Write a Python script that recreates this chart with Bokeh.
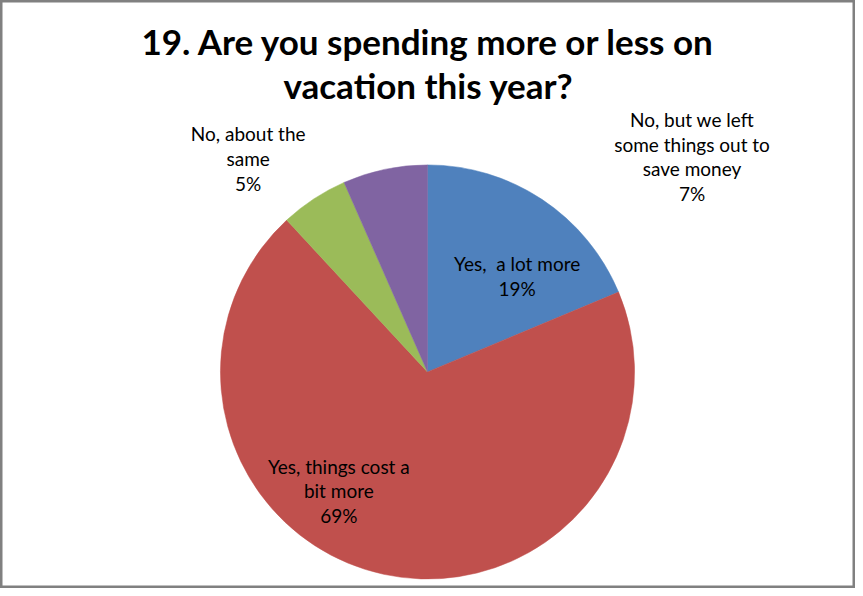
import math
from bokeh.plotting import figure
from bokeh.models import Range1d, ColumnDataSource
from bokeh.core.properties import value
from bokeh.embed import file_html
from bokeh.resources import INLINE

# ---- data ----
title_lines = ["19. Are you spending more or less on", "vacation this year?"]
categories = [
    "Yes,  a lot more",
    "Yes, things cost a\nbit more",
    "No, about the\nsame",
    "No, but we left\nsome things out to\nsave money",
]
values = [18.7, 69.4, 5.3, 6.6]
colors = ["#4F81BD", "#C0504D", "#9BBB59", "#8064A2"]

# ---- layout (data units = reference-picture pixels, y measured from top) ----
W, H = 855, 588          # figure size in screen pixels
RW, RH = 863, 596        # drawing space
CX, CY, R = 431, 376.5, 209
label_centers = [(521.5, 279.5), (341.5, 497), (250, 160), (698, 158)]
LINE_H = 25
TITLE_X = 432
TITLE_MIDS = [41, 86]
FONT = "Lato"

p = figure(width=W, height=H, x_range=Range1d(0, RW), y_range=Range1d(0, RH),
           output_backend="svg", toolbar_location=None, min_border=0,
           background_fill_color="white", border_fill_color="white")
p.axis.visible = False
p.grid.visible = False
p.outline_line_color = "#808080"
p.outline_line_width = 4

total = sum(values)
starts, ends = [], []
cum = 0.0
for v in values:
    a0 = cum / total
    cum += v
    a1 = cum / total
    # clockwise from 12 o'clock
    starts.append(math.pi / 2 - 2 * math.pi * a1)
    ends.append(math.pi / 2 - 2 * math.pi * a0)

src = ColumnDataSource(dict(x=[CX] * len(values), y=[RH - CY] * len(values),
                            start=starts, end=ends, color=colors))
p.wedge(x="x", y="y", radius=R, start_angle="start", end_angle="end",
        direction="anticlock", fill_color="color", line_color="color",
        line_width=0.5, source=src)

# title
p.text(x=[TITLE_X] * len(title_lines), y=[RH - m for m in TITLE_MIDS],
       text=title_lines, text_align="center", text_baseline="middle",
       text_font=value(FONT), text_font_style="bold", text_font_size="35px",
       text_color="black")

# data labels
lx, ly, lt = [], [], []
for cat, v, (cx, cy) in zip(categories, values, label_centers):
    lines = cat.split("\n") + [f"{round(100 * v / total)}%"]
    n = len(lines)
    for i, ln in enumerate(lines):
        sy = cy + LINE_H * (i - (n - 1) / 2)
        lx.append(cx)
        ly.append(RH - sy)
        lt.append(ln.replace("  ", "\u00a0 "))
p.text(x=lx, y=ly, text=lt, text_align="center", text_baseline="middle",
       text_font=value(FONT), text_font_size="19px", text_color="black")

open("out.html", "w").write(file_html(p, INLINE))
